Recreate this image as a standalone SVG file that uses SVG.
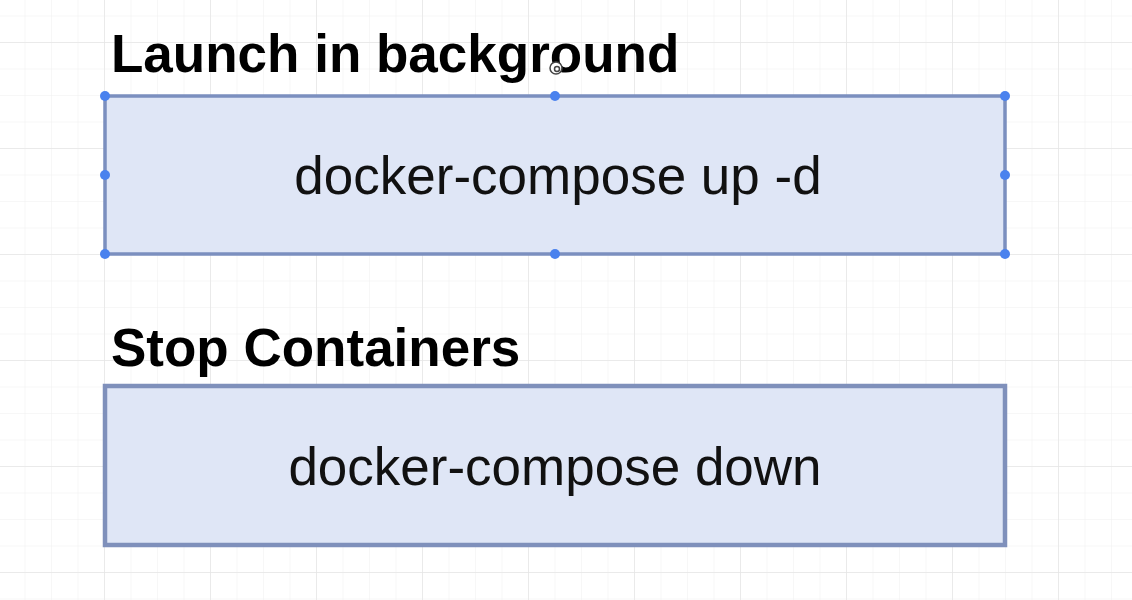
<svg xmlns="http://www.w3.org/2000/svg" width="1132" height="600" viewBox="0 0 1132 600">
<defs>
<pattern id="minor" x="104" y="42" width="26.5" height="26.5" patternUnits="userSpaceOnUse">
<path d="M0 0H26.5M0 0V26.5" fill="none" stroke="#f0f0f0" stroke-width="1"/>
</pattern>
<pattern id="major" x="104" y="42" width="106" height="106" patternUnits="userSpaceOnUse">
<path d="M0 0H106M0 0V106" fill="none" stroke="#e6e6e6" stroke-width="1.5"/>
</pattern>
</defs>
<style>
.title{font-family:"Liberation Sans",Arial,sans-serif;font-weight:bold;font-size:53px;fill:#000}
.cmd{font-family:"Liberation Sans",Arial,sans-serif;font-size:53px;fill:#111;text-anchor:middle}
.box{fill:#dfe6f6;stroke:#7b8fbf;stroke-width:3.5}
.handle{fill:#4a82ee}
</style>
<rect width="1132" height="600" fill="#ffffff"/>
<rect width="1132" height="600" fill="url(#minor)"/>
<rect width="1132" height="600" fill="url(#major)"/>
<g id="connectors"/>
<g id="node-launch">
<text class="title" x="111" y="72">Launch in background</text>
<rect class="box" x="105" y="96" width="900" height="158"/>
<text class="cmd" x="558" y="194">docker-compose up -d</text>
<g id="selection-handles">
<circle class="handle" cx="105" cy="96" r="5"/>
<circle class="handle" cx="555" cy="96" r="5"/>
<circle class="handle" cx="1005" cy="96" r="5"/>
<circle class="handle" cx="105" cy="175" r="5"/>
<circle class="handle" cx="1005" cy="175" r="5"/>
<circle class="handle" cx="105" cy="254" r="5"/>
<circle class="handle" cx="555" cy="254" r="5"/>
<circle class="handle" cx="1005" cy="254" r="5"/>
</g>
</g>
<g id="node-stop">
<text class="title" x="111" y="366">Stop Containers</text>
<rect class="box" x="105" y="386" width="900" height="159" style="stroke-width:4.5;stroke:#7f90bb"/>
<text class="cmd" x="555" y="485">docker-compose down</text>
</g>
<g id="cursor" fill="none" stroke="#444" stroke-width="1.5">
<circle cx="556" cy="68" r="6" fill="#fff"/>
<circle cx="557" cy="69" r="2.5"/>
</g>
</svg>
